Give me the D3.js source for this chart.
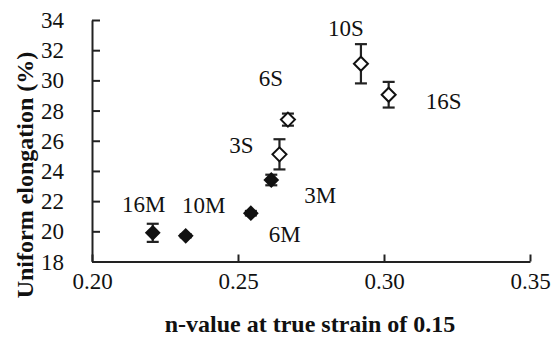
<!DOCTYPE html>
<html>
<head>
<meta charset="utf-8">
<script src="https://cdn.jsdelivr.net/npm/d3@7"></script>
<style>
  body { margin: 0; background: #fff; }
  text { font-family: "Liberation Serif", "Times New Roman", serif; fill: #111; }
</style>
</head>
<body>
<div id="graph-holder"></div>
<script>
// sample names, n-value, uniform elongation (%) and its error
var names = ["16M", "10M", "6M", "3M", "3S", "6S", "10S", "16S"];
var nValues = [0.2208, 0.2321, 0.2544, 0.2614, 0.2642, 0.2671, 0.2921, 0.3016];
var elong = [19.9, 19.7, 21.2, 23.4, 25.1, 27.4, 31.1, 29.05];
var elongErr = [0.6, 0.1, 0.15, 0.35, 1.0, 0.4, 1.3, 0.85];
var filled = [true, true, true, true, false, false, false, false];

var xTicks = [0.2, 0.25, 0.3, 0.35];
var yTicks = [18, 20, 22, 24, 26, 28, 30, 32, 34];

// label placement relative to each point (px)
var labelOffset = {
  "16M": [-9, -21], "10M": [18, -23], "6M": [34, 29], "3M": [49, 23],
  "3S": [-38, -1], "6S": [-17, -34], "10S": [-15, -28], "16S": [55, 14]
};

var width = 551, height = 338;
var x = d3.scaleLinear().domain([0.2, 0.35]).range([92, 530]);
var y = d3.scaleLinear().domain([18, 34]).range([261.5, 20]);

var svg = d3.select("#graph-holder")
  .append("svg")
  .attr("width", width)
  .attr("height", height);

// axes (ticks point inward)
var xAxis = svg.append("g")
  .attr("transform", "translate(0," + y(18) + ")")
  .call(d3.axisBottom(x).tickValues(xTicks).tickFormat(d3.format(".2f"))
    .tickSizeInner(-7).tickSizeOuter(0).tickPadding(14));
var yAxis = svg.append("g")
  .attr("transform", "translate(" + x(0.2) + ",0)")
  .call(d3.axisLeft(y).tickValues(yTicks).tickFormat(d3.format("d"))
    .tickSizeInner(-8).tickSizeOuter(0).tickPadding(28));

[xAxis, yAxis].forEach(function(g) {
  g.select(".domain").attr("stroke", "#222").attr("stroke-width", 2);
  g.selectAll(".tick line").attr("stroke", "#222").attr("stroke-width", 2);
  g.selectAll(".tick text").attr("fill", "#111").style("font-size", "23px")
    .style("font-family", "Liberation Serif");
});
xAxis.selectAll(".tick text").attr("dy", "0.6em");
yAxis.selectAll(".tick text").attr("dy", "0.33em");

// axis titles
svg.append("text")
  .attr("x", 310).attr("y", 332)
  .attr("text-anchor", "middle")
  .style("font-size", "24px").style("font-weight", "bold")
  .text("n-value at true strain of 0.15");
svg.append("text")
  .attr("transform", "translate(33,175) rotate(-90)")
  .attr("text-anchor", "middle")
  .style("font-size", "24px").style("font-weight", "bold")
  .text("Uniform elongation (%)");

var pts = names.map(function(n, i) {
  return { name: n, n: nValues[i], e: elong[i], err: elongErr[i], filled: filled[i] };
});

// error bars
var eb = svg.selectAll(".errbar").data(pts).enter().append("g")
  .attr("stroke", "#222").attr("stroke-width", 2.2);
eb.append("line")
  .attr("x1", function(d) { return x(d.n); }).attr("x2", function(d) { return x(d.n); })
  .attr("y1", function(d) { return y(d.e - d.err); }).attr("y2", function(d) { return y(d.e + d.err); });
eb.append("line")
  .attr("x1", function(d) { return x(d.n) - 6; }).attr("x2", function(d) { return x(d.n) + 6; })
  .attr("y1", function(d) { return y(d.e + d.err); }).attr("y2", function(d) { return y(d.e + d.err); });
eb.append("line")
  .attr("x1", function(d) { return x(d.n) - 6; }).attr("x2", function(d) { return x(d.n) + 6; })
  .attr("y1", function(d) { return y(d.e - d.err); }).attr("y2", function(d) { return y(d.e - d.err); });

// diamond markers
svg.selectAll(".pt").data(pts).enter().append("path")
  .attr("class", "pt")
  .attr("transform", function(d) { return "translate(" + x(d.n) + "," + y(d.e) + ")"; })
  .attr("d", function(d) {
    var r = d.filled ? 6.5 : 7;
    return "M0," + (-r) + "L" + r + ",0L0," + r + "L" + (-r) + ",0Z";
  })
  .attr("fill", function(d) { return d.filled ? "#111" : "#fff"; })
  .attr("stroke", "#111")
  .attr("stroke-width", 2);

// point labels
svg.selectAll(".lbl").data(pts).enter().append("text")
  .attr("x", function(d) { return x(d.n) + labelOffset[d.name][0]; })
  .attr("y", function(d) { return y(d.e) + labelOffset[d.name][1]; })
  .attr("text-anchor", "middle")
  .style("font-size", "23px")
  .text(function(d) { return d.name; });
</script>
</body>
</html>
